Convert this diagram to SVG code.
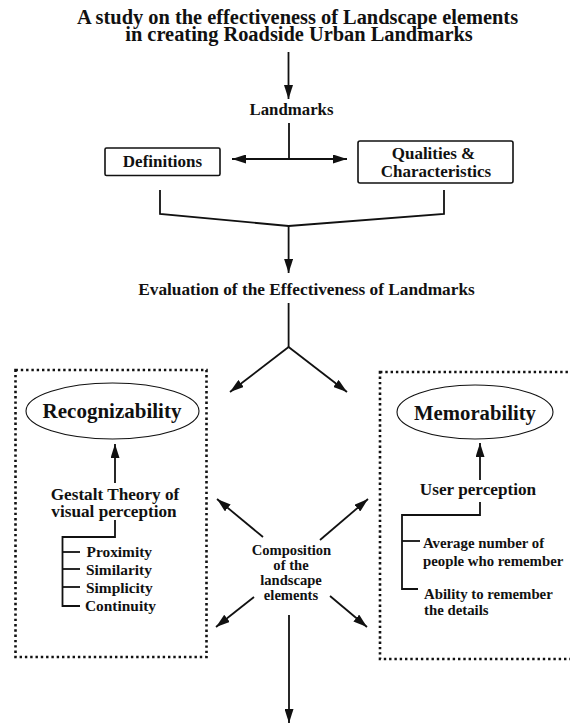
<svg xmlns="http://www.w3.org/2000/svg" width="570" height="726" viewBox="0 0 570 726">
<defs>
<marker id="ah" viewBox="0 0 14 9" refX="14" refY="4.5" markerWidth="14" markerHeight="9" markerUnits="userSpaceOnUse" orient="auto-start-reverse">
<path d="M0,0 L14,4.5 L0,9 z" fill="#111"/>
</marker>
<style>
text{font-family:'Liberation Serif','Times New Roman',serif;font-weight:700;fill:#111}
.c{text-anchor:middle}
.ln{fill:none;stroke:#111;stroke-width:1.8}
.ar{fill:none;stroke:#111;stroke-width:1.8;marker-end:url(#ah)}
.box{fill:#fff;stroke:#111;stroke-width:1.6}
.dot{fill:none;stroke:#111;stroke-width:2.6;stroke-dasharray:2.4 2.9}
.el{fill:#fff;stroke:#111;stroke-width:1.1}
</style>
</defs>
<rect width="570" height="726" fill="#fff"/>

<g id="title" font-family="Liberation Serif, serif">
<text class="c" x="297.5" y="23.5" font-size="20.4">A study on the effectiveness of Landscape elements</text>
<text class="c" x="299" y="41" font-size="20.4">in creating Roadside Urban Landmarks</text>
</g>

<g id="connectors">
<line class="ar" x1="288.5" y1="52" x2="288.5" y2="99"/>
<line class="ln" x1="289" y1="123" x2="289" y2="159"/>
<line class="ar" x1="289" y1="159" x2="232" y2="159"/>
<line class="ar" x1="289" y1="159" x2="347" y2="159"/>
<polyline class="ln" points="160,190 160,214 288.6,226 444,214 444,190"/>
<line class="ar" x1="288.6" y1="226" x2="288.6" y2="273"/>
<line class="ln" x1="288.6" y1="303" x2="288.6" y2="347"/>
<line class="ar" x1="288.6" y1="347" x2="230" y2="392"/>
<line class="ar" x1="288.6" y1="347" x2="347" y2="392"/>
<line class="ar" x1="115" y1="483" x2="115" y2="444"/>
<polyline class="ln" points="115,520 115,537 62.5,537 62.5,606 80,606"/>
<line class="ln" x1="62.5" y1="552" x2="80" y2="552"/>
<line class="ln" x1="62.5" y1="569" x2="80" y2="569"/>
<line class="ln" x1="62.5" y1="587" x2="80" y2="587"/>
<line class="ar" x1="480" y1="480" x2="480" y2="443"/>
<polyline class="ln" points="480,502 480,515 402,515 402,589 418,589"/>
<line class="ln" x1="402" y1="541" x2="420" y2="541"/>
<line class="ar" x1="263" y1="537" x2="217" y2="499"/>
<line class="ar" x1="320" y1="540" x2="368" y2="499"/>
<line class="ar" x1="254" y1="597" x2="216" y2="627"/>
<line class="ar" x1="330" y1="596" x2="367" y2="627"/>
<line class="ar" x1="289" y1="615" x2="289" y2="723"/>
</g>

<g id="landmarks">
<text class="c" x="291.5" y="115" font-size="16.8">Landmarks</text>
</g>

<g id="definitions">
<rect class="box" x="105" y="148" width="115" height="27.5" rx="1.5"/>
<text class="c" x="162.5" y="166.5" font-size="17">Definitions</text>
</g>

<g id="qualities">
<rect class="box" x="358" y="141" width="155" height="42" rx="2"/>
<text class="c" x="433.5" y="158.5" font-size="17">Qualities &amp;</text>
<text class="c" x="436" y="176.5" font-size="17">Characteristics</text>
</g>

<g id="evaluation">
<text class="c" x="306.5" y="295" font-size="17.3">Evaluation of the Effectiveness of Landmarks</text>
</g>

<g id="left-panel">
<rect class="dot" x="15.5" y="370" width="191" height="287"/>
</g>

<g id="right-panel">
<rect class="dot" x="380" y="372" width="220" height="287"/>
</g>

<g id="recognizability">
<ellipse class="el" cx="112.5" cy="411" rx="86.5" ry="28"/>
<text class="c" x="112" y="418" font-size="21">Recognizability</text>
</g>

<g id="gestalt">
<text class="c" x="115" y="499.5" font-size="17.2">Gestalt Theory of</text>
<text class="c" x="114" y="516.5" font-size="17.2">visual perception</text>
</g>

<g id="gestalt-list">
<text x="86.5" y="557" font-size="15.4">Proximity</text>
<text x="86" y="575" font-size="15.4">Similarity</text>
<text x="86" y="593" font-size="15.4">Simplicity</text>
<text x="85" y="611" font-size="15.4">Continuity</text>
</g>

<g id="memorability">
<ellipse class="el" cx="475" cy="412" rx="78" ry="27"/>
<text class="c" x="475" y="419.5" font-size="20.7">Memorability</text>
</g>

<g id="user-perception">
<text class="c" x="478" y="495" font-size="17.2">User perception</text>
</g>

<g id="memory-list">
<text x="423" y="548" font-size="14.8">Average number of</text>
<text x="423" y="566" font-size="14.8">people who remember</text>
<text x="424" y="599" font-size="14.8">Ability to remember</text>
<text x="424" y="615" font-size="14.8">the details</text>
</g>

<g id="composition">
<text class="c" x="291.5" y="555" font-size="14.6">Composition</text>
<text class="c" x="291" y="570" font-size="14.6">of the</text>
<text class="c" x="291" y="584.5" font-size="14.6">landscape</text>
<text class="c" x="291" y="600" font-size="14.6">elements</text>
</g>
</svg>
